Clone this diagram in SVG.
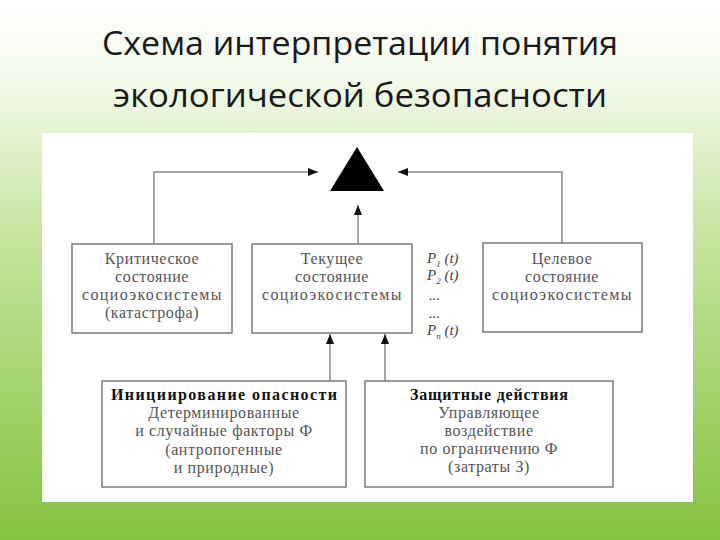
<svg xmlns="http://www.w3.org/2000/svg" width="720" height="540" viewBox="0 0 720 540">
<defs>
<linearGradient id="bg" x1="0" y1="0" x2="0" y2="1">
<stop offset="0" stop-color="#ffffff"/>
<stop offset="0.15" stop-color="#f3f9ea"/>
<stop offset="0.45" stop-color="#c4e39c"/>
<stop offset="1" stop-color="#84c23e"/>
</linearGradient>
<marker id="ah" markerUnits="userSpaceOnUse" markerWidth="12" markerHeight="10" refX="10" refY="4" orient="auto">
<path d="M0,0 L10,4 L0,8 z" fill="#111"/>
</marker>
<style>
.box{fill:#fff;stroke:#7a7a7a;stroke-width:1.5}
.t{font-family:"Liberation Serif","DejaVu Serif",serif;font-size:16px;fill:#555;text-anchor:middle;letter-spacing:0.6px}
.b{font-weight:bold;fill:#111;letter-spacing:0}
.p{font-family:"Liberation Serif","DejaVu Serif",serif;font-style:italic;font-size:15px;fill:#444}
.s{font-size:9px}
.ln{fill:none;stroke:#888;stroke-width:1.5}
.title{font-family:"Open Sans","Noto Sans","DejaVu Sans",sans-serif;font-size:32px;fill:#1a1a1a;text-anchor:middle}
</style>
</defs>
<rect x="0" y="0" width="720" height="540" fill="url(#bg)"/>
<text class="title" x="360" y="55" textLength="516" lengthAdjust="spacingAndGlyphs">Схема интерпретации понятия</text>
<text class="title" x="360" y="107" textLength="494" lengthAdjust="spacingAndGlyphs">экологической безопасности</text>
<rect x="42" y="133" width="651" height="369" fill="#ffffff"/>

<g id="connectors">
<polyline class="ln" points="154,244 154,172 318,172" marker-end="url(#ah)"/>
<polyline class="ln" points="562,243 562,172 398,172" marker-end="url(#ah)"/>
<line class="ln" x1="358" y1="244" x2="358" y2="205" marker-end="url(#ah)"/>
<line class="ln" x1="330" y1="381" x2="330" y2="334" marker-end="url(#ah)"/>
<line class="ln" x1="385" y1="381" x2="385" y2="334" marker-end="url(#ah)"/>
</g>

<g id="danger">
<polygon points="357,147 330,191 384,191" fill="#000"/>
</g>

<g id="critical">
<rect class="box" x="72" y="244" width="160" height="89"/>
<text class="t" x="152" y="264">Критическое</text>
<text class="t" x="152" y="282">состояние</text>
<text class="t" x="152" y="300" textLength="140">социоэкосистемы</text>
<text class="t" x="152" y="318">(катастрофа)</text>
</g>

<g id="current">
<rect class="box" x="252" y="244" width="160" height="89"/>
<text class="t" x="332" y="264">Текущее</text>
<text class="t" x="332" y="282">состояние</text>
<text class="t" x="332" y="300" textLength="140">социоэкосистемы</text>
</g>

<g id="probabilities">
<text class="p" x="427" y="263">P<tspan class="s" dy="4">1</tspan><tspan dy="-4"> (t)</tspan></text>
<text class="p" x="427" y="280">P<tspan class="s" dy="4">2</tspan><tspan dy="-4"> (t)</tspan></text>
<text class="p" x="429" y="300">...</text>
<text class="p" x="429" y="318">...</text>
<text class="p" x="427" y="335">P<tspan class="s" dy="4">n</tspan><tspan dy="-4"> (t)</tspan></text>
</g>

<g id="target">
<rect class="box" x="483" y="243" width="159" height="89"/>
<text class="t" x="562" y="264">Целевое</text>
<text class="t" x="562" y="282">состояние</text>
<text class="t" x="562" y="300" textLength="140">социоэкосистемы</text>
</g>

<g id="initiation">
<rect class="box" x="102" y="381" width="244" height="106"/>
<text class="t b" x="224" y="400" textLength="226">Инициирование опасности</text>
<text class="t" x="224" y="418">Детерминированные</text>
<text class="t" x="224" y="436">и случайные факторы Ф</text>
<text class="t" x="224" y="455">(антропогенные</text>
<text class="t" x="224" y="473">и природные)</text>
</g>

<g id="protection">
<rect class="box" x="365" y="381" width="248" height="106"/>
<text class="t b" x="489" y="400" textLength="158">Защитные действия</text>
<text class="t" x="489" y="418">Управляющее</text>
<text class="t" x="489" y="436">воздействие</text>
<text class="t" x="489" y="454">по ограничению Ф</text>
<text class="t" x="489" y="472">(затраты З)</text>
</g>
</svg>
